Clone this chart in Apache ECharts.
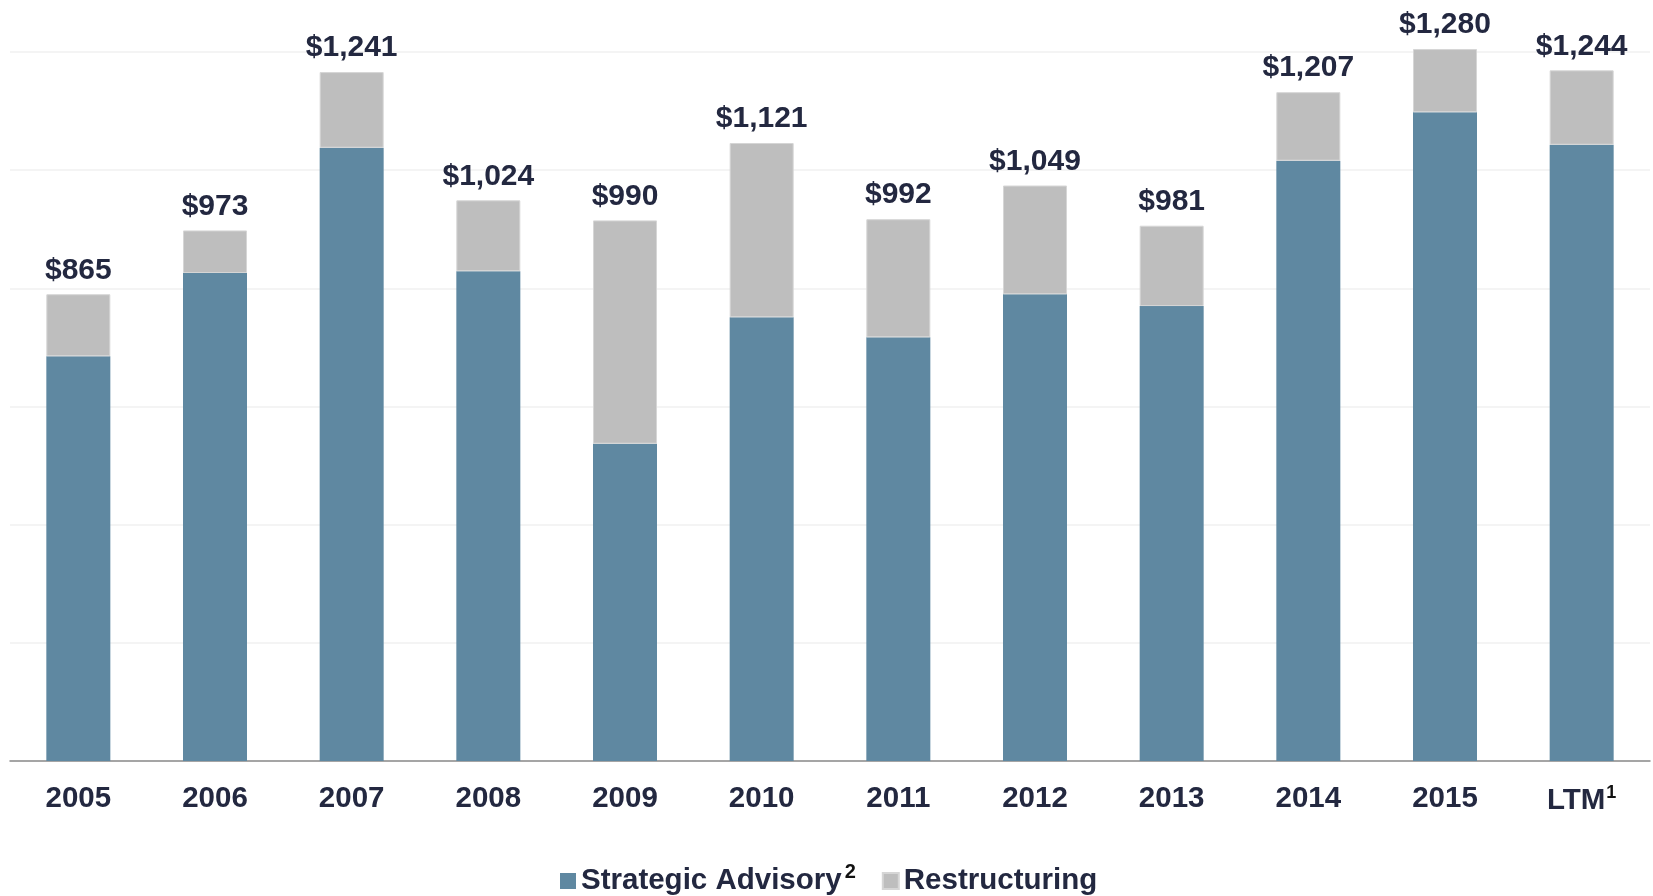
<!DOCTYPE html>
<html>
<head>
<meta charset="utf-8">
<style>
  html, body { margin: 0; padding: 0; background: #fff; }
  #chart-revenue { width: 1653px; height: 896px; }
</style>
<script src="https://cdn.jsdelivr.net/npm/echarts@6/dist/echarts.min.js"></script>
</head>
<body>
<div id="chart-revenue"></div>
<script>
// 数据
var categories = ['2005', '2006', '2007', '2008', '2009', '2010', '2011', '2012', '2013', '2014', '2015', 'LTM'];
var strategicAdvisory = [760, 901, 1113, 904, 612, 826, 792, 865, 845, 1091, 1173, 1118];
var restructuring = [105, 72, 128, 120, 378, 295, 200, 184, 136, 116, 107, 126];
var totals = [865, 973, 1241, 1024, 990, 1121, 992, 1049, 981, 1207, 1280, 1244];

var textColor = '#232840';
var font = '"Liberation Sans", Arial, sans-serif';

var chartRevenue = echarts.init(document.getElementById('chart-revenue'));

var optionRevenue = {
    animation: false,
    textStyle: { fontFamily: font },
    grid: { left: 10, right: 3, top: 52, bottom: 135 },
    legend: {
        left: 555,
        top: 857,
        itemWidth: 16,
        itemHeight: 16,
        itemGap: 26,
        icon: 'rect',
        data: ['Strategic Advisory', 'Restructuring'],
        formatter: function (name) {
            return name === 'Strategic Advisory' ? '{t|' + name + '}{sup|2}' : '{t|' + name + '}';
        },
        textStyle: {
            rich: {
                t: { fontSize: 29.5, fontWeight: 'bold', color: textColor, fontFamily: font },
                sup: { fontSize: 20, fontWeight: 'bold', color: '#111', fontFamily: font, padding: [0, 0, 18, 3] }
            }
        }
    },
    xAxis: {
        type: 'category',
        data: categories,
        axisLine: { lineStyle: { color: '#8a8a8a', width: 1.5 } },
        axisTick: { length: 8, lineStyle: { color: '#8a8a8a', width: 1.5 } },
        axisLabel: {
            margin: 23,
            formatter: function (v) {
                return v === 'LTM' ? '{t|LTM}{sup|1}' : '{t|' + v + '}';
            },
            rich: {
                t: { fontSize: 29.5, fontWeight: 'bold', color: textColor, fontFamily: font },
                sup: { fontSize: 18, fontWeight: 'bold', color: '#111', fontFamily: font, padding: [0, 0, 16, 1] }
            }
        }
    },
    yAxis: [{
        type: 'value',
        min: 75,
        max: 1275,
        startValue: 75,
        show: true,
        axisLine: { show: false },
        axisTick: { show: false },
        axisLabel: { show: false },
        splitLine: { show: false }
    }, {
        // 只用来画网格线
        type: 'value',
        min: 0,
        max: 1200,
        interval: 200,
        axisLine: { show: false },
        axisTick: { show: false },
        axisLabel: { show: false },
        splitLine: { lineStyle: { color: '#f0f0f0', width: 1.5 } }
    }],
    series: [{
        name: 'Strategic Advisory',
        type: 'bar',
        stack: 'total',
        barWidth: 64,
        clip: false,
        itemStyle: { color: '#5f88a1' },
        data: strategicAdvisory
    }, {
        name: 'Restructuring',
        type: 'bar',
        stack: 'total',
        barWidth: 64,
        clip: false,
        itemStyle: { color: '#bebebe', borderColor: '#d6d6d6', borderWidth: 1 },
        label: {
            show: true,
            position: 'top',
            distance: 9,
            fontSize: 30,
            fontWeight: 'bold',
            color: textColor,
            fontFamily: font,
            formatter: function (p) {
                return '$' + totals[p.dataIndex].toLocaleString('en-US');
            }
        },
        data: restructuring
    }]
};

chartRevenue.setOption(optionRevenue);
</script>
</body>
</html>
